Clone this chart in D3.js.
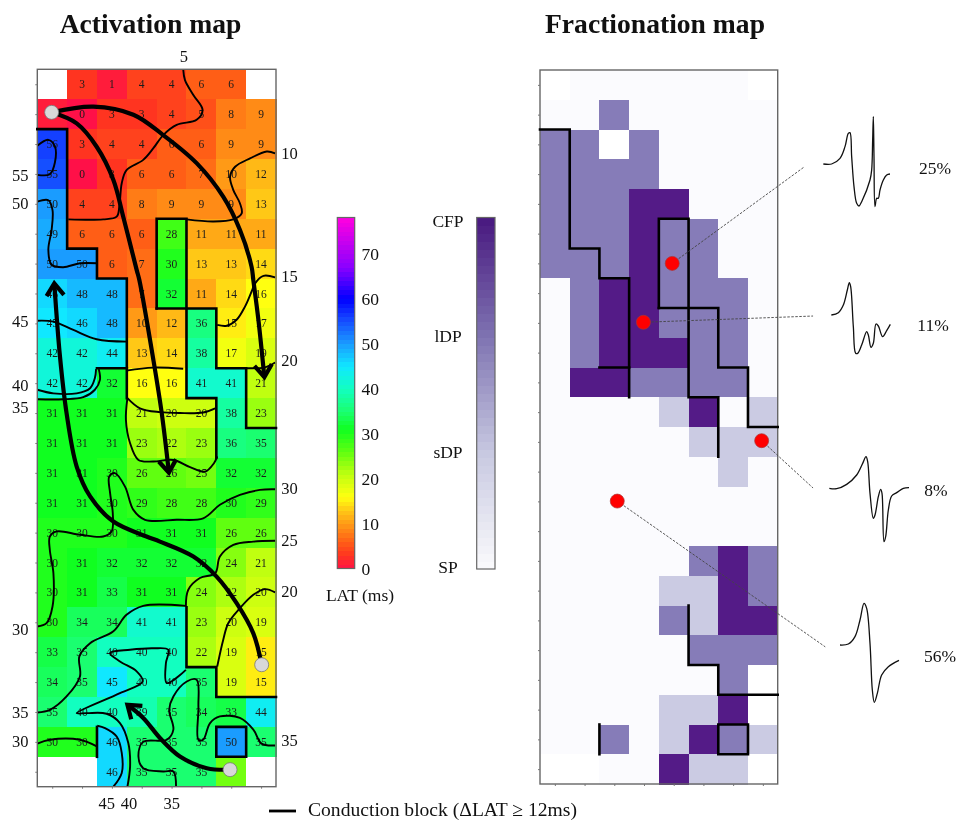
<!DOCTYPE html>
<html>
<head>
<meta charset="utf-8">
<script src="https://cdn.jsdelivr.net/npm/d3@7"></script>
<style>
  html, body { margin: 0; padding: 0; background: #fff; }
  svg { display: block; filter: blur(.35px); }
  text { font-family: "Liberation Serif", serif; fill: #111; }
  rect.cell { shape-rendering: crispEdges; }
</style>
</head>
<body>
<div id="chart"></div>
<script>
// LAT (ms) per electrode, rows top to bottom, null = no electrode
const latRows = [
  [null, 3, 1, 4, 4, 6, 6, null],
  [1, 0, 3, 3, 4, 5, 8, 9],
  [56, 3, 4, 4, 6, 6, 9, 9],
  [55, 0, 3, 6, 6, 7, 10, 12],
  [50, 4, 4, 8, 9, 9, 9, 13],
  [49, 6, 6, 6, 28, 11, 11, 11],
  [50, 50, 6, 7, 30, 13, 13, 14],
  [46, 48, 48, 7, 32, 11, 14, 16],
  [45, 46, 48, 10, 12, 36, 15, 17],
  [42, 42, 44, 13, 14, 38, 17, 19],
  [42, 42, 32, 16, 16, 41, 41, 21],
  [31, 31, 31, 21, 20, 20, 38, 23],
  [31, 31, 31, 23, 22, 23, 36, 35],
  [31, 31, 30, 26, 26, 25, 32, 32],
  [31, 31, 30, 29, 28, 28, 30, 29],
  [30, 30, 30, 31, 31, 31, 26, 26],
  [30, 31, 32, 32, 32, 32, 24, 21],
  [30, 31, 33, 31, 31, 24, 22, 20],
  [30, 34, 34, 41, 41, 23, 20, 19],
  [33, 35, 40, 40, 40, 22, 19, 15],
  [34, 35, 45, 40, 40, 35, 19, 15],
  [35, 40, 40, 39, 35, 34, 33, 44],
  [30, 30, 46, 35, 35, 35, 50, 35],
  [null, null, 46, 35, 35, 35, 25, null]
];
const latUnlabeled = ['1,0', '23,6'];

// fractionation class per electrode: null blank, 0 SP, 1 sDP, 2 lDP, 3 CFP
const fracRows = [
  [null, 0, 0, 0, 0, 0, 0, null],
  [0, 0, 2, 0, 0, 0, 0, 0],
  [2, 2, null, 2, 0, 0, 0, 0],
  [2, 2, 2, 2, 0, 0, 0, 0],
  [2, 2, 2, 3, 3, 0, 0, 0],
  [2, 2, 2, 3, 2, 2, 0, 0],
  [2, 2, 2, 3, 2, 2, 0, 0],
  [0, 2, 3, 3, 2, 2, 2, 0],
  [0, 2, 3, 3, 2, 2, 2, 0],
  [0, 2, 3, 3, 3, 2, 2, 0],
  [0, 3, 3, 2, 2, 2, 2, 0],
  [0, 0, 0, 0, 1, 3, 0, 1],
  [0, 0, 0, 0, 0, 1, 1, 1],
  [0, 0, 0, 0, 0, 0, 1, 0],
  [0, 0, 0, 0, 0, 0, 0, 0],
  [0, 0, 0, 0, 0, 0, 0, 0],
  [0, 0, 0, 0, 0, 2, 3, 2],
  [0, 0, 0, 0, 1, 1, 3, 2],
  [0, 0, 0, 0, 2, 1, 3, 3],
  [0, 0, 0, 0, 0, 2, 2, 2],
  [0, 0, 0, 0, 0, 0, 2, null],
  [0, 0, 0, 0, 1, 1, 3, null],
  [0, 0, 2, 0, 1, 3, 2, 1],
  [null, null, 0, 0, 3, 1, 1, null]
];

// conduction block lines, [col, row] on grid corners
const blockLines = [
  [[0, 2], [1, 2], [1, 6], [2, 6], [2, 7], [3, 7], [3, 11]],
  [[2, 10], [3, 10]],
  [[4, 8], [4, 5], [5, 5], [5, 11], [6, 11], [6, 13]],
  [[4, 8], [6, 8], [6, 10], [7, 10], [7, 12], [8, 12]],
  [[5, 18], [5, 20], [6, 20], [6, 21], [8, 21]],
  [[6, 22], [7, 22], [7, 23], [6, 23], [6, 22]],
  [[2, 22], [2, 23]]
];

// isochrones, [col, row]
const isochrones = [
  [[4.89, 0], [4.95, .36], [5.23, .86], [5.54, 1.36], [5.34, 1.69], [4.67, 1.86], [4.22, 2.2], [3.89, 2.64], [3.55, 3.03], [2.99, 3.37], [2.83, 3.81], [2.75, 4.59], [2.66, 4.93], [2.21, 5.02], [1.04, 5.02]],
  [[7.97, 2.81], [7.69, 2.75], [7.13, 2.98], [6.63, 3.26], [6.46, 3.59], [6.57, 4.04], [6.79, 4.48], [6.85, 4.82], [6.57, 5.02], [5.9, 5.09], [5, 5.02]],
  [[0, 2.56], [.37, 2.36], [.59, 2.58], [.59, 3.12], [.42, 3.51], [0, 3.53]],
  [[0, 4.43], [.37, 4.38], [.51, 4.71], [.48, 5.37], [.37, 6.04], [.48, 6.54], [.87, 6.62], [1.43, 6.49], [2.01, 6.49]],
  [[7.97, 6.96], [7.58, 6.91], [7.3, 7.16], [7.18, 7.44], [6.96, 7.94], [6.68, 8.38], [6.35, 8.58], [6.03, 8.55]],
  [[0, 8.41], [.54, 8.44], [1.21, 8.72], [1.99, 9.03], [2.99, 9.11]],
  [[0, 10.72], [.54, 10.84], [1.32, 10.84], [1.77, 10.67], [1.93, 10.33], [1.97, 10.03]],
  [[0, 11.04], [.87, 11.04], [1.54, 10.97], [1.93, 10.72], [2.1, 10.39], [2.06, 10.03]],
  [[2.99, 10.08], [3.88, 9.98], [4.89, 10.02]],
  [[7.02, 10], [7.63, 9.97], [7.97, 9.81]],
  [[3.02, 11], [3.44, 11.34], [4.11, 11.47], [4.78, 11.5], [5.56, 11.48], [5.96, 11.34]],
  [[3.02, 11], [2.97, 11.73], [3.11, 12.51], [3.39, 13.07], [3.89, 13.12], [4.56, 13.07], [5.12, 13.31], [5.62, 13.46], [5.92, 13.18], [6.03, 12.95]],
  [[7.97, 14.05], [7.46, 14.07], [6.79, 14.24], [6.12, 14.57], [5.56, 15.02], [4.67, 15.07], [3.61, 15.07], [3.22, 14.74], [2.94, 13.96], [2.6, 13.51], [2.41, 13.62], [2.44, 14.18], [2.53, 14.85], [2.49, 15.46], [2.21, 15.63], [1.43, 15.57], [.65, 15.46], [.42, 15.63], [.42, 16.08], [.54, 16.86], [.51, 17.97], [.31, 18.53], [0, 18.64]],
  [[7.97, 15.77], [7.24, 15.8], [6.57, 15.91], [6.12, 16.3], [5.96, 16.86], [5.45, 17.02], [5.06, 17.41], [4.98, 17.97]],
  [[7.97, 17.5], [7.63, 17.39], [7.24, 17.58], [6.79, 18.03], [6.4, 18.53], [6.23, 19.09], [6.03, 19.98]],
  [[0, 21.52], [.42, 21.43], [.98, 20.98], [1.43, 20.31], [1.41, 19.64], [1.77, 19.2], [2.55, 18.8], [2.99, 18.25], [3.55, 17.95], [4.98, 17.95]],
  [[4.98, 20.09], [4.34, 20.53], [4.31, 19.87], [4.39, 19.42], [3.89, 19.37], [3.11, 19.42], [2.44, 19.53], [2.77, 19.81], [3.33, 20.14], [3.53, 20.48], [2.77, 20.87], [1.32, 21.54], [1.65, 21.54], [2.32, 21.56], [2.77, 21.87], [3.05, 22.54], [3.11, 23.32], [3.02, 24]],
  [[2.55, 24], [2.83, 23.54], [2.83, 22.87], [2.66, 22.32], [2.27, 22.04], [2.01, 21.96]],
  [[0, 22.56], [.42, 22.43], [1.43, 22.43], [2.01, 22.66]],
  [[7.97, 22.62], [7.52, 22.56], [7.24, 22.09], [6.79, 21.7], [6.12, 21.65], [5.79, 21.87], [5.56, 22.43], [5.4, 22.43], [5.4, 21.32], [5.34, 20.42], [5.01, 20.48], [4.56, 20.98], [4.42, 21.43], [4.56, 22.09], [4.34, 22.43], [3.55, 22.5], [3.39, 22.99], [3.55, 23.38], [4.22, 23.49], [4.56, 23.49], [4.65, 24]]
];

// activation wavefront arrows, tail first, [col, row]
const wavefronts = [
  [[.48, 1.44], [1.88, 1.25], [3.22, 1.52], [4.22, 2.2], [5.34, 3.14], [6.23, 4.26], [6.79, 5.37], [7.18, 6.6], [7.24, 7.05], [7.41, 8.38], [7.61, 10.3]],
  [[.48, 1.44], [1.32, 1.81], [1.99, 2.59], [2.55, 3.7], [2.88, 4.93], [3.33, 6.71], [3.42, 7.05], [3.89, 9.72], [4.17, 11.5], [4.41, 13.49]],
  [[7.52, 19.92], [7.24, 18.87], [6.68, 17.86], [6.01, 16.97], [5.23, 16.3], [4.11, 15.8], [3.66, 15.63], [2.55, 15.13], [1.77, 14.29], [1.32, 13.29], [.98, 11.5], [.76, 9.61], [.57, 7.16]],
  [[6.46, 23.43], [5.68, 23.38], [4.78, 22.99], [4.11, 22.37], [3.55, 21.7], [3.02, 21.26]]
];
const pacingSites = [[.48, 1.44], [7.52, 19.92], [6.46, 23.43]];

// isochrone value labels, [text, col, row]
const isoLabels = [
  ['5', 4.91, -.45], ['10', 8.45, 2.8], ['15', 8.45, 6.92], ['20', 8.45, 9.72],
  ['30', 8.45, 14.03], ['25', 8.45, 15.75], ['20', 8.45, 17.47], ['35', 8.45, 22.46],
  ['55', -.57, 3.56], ['50', -.57, 4.47], ['45', -.57, 8.43], ['40', -.57, 10.58],
  ['35', -.57, 11.3], ['30', -.57, 18.72], ['35', -.57, 21.5], ['30', -.57, 22.47],
  ['45', 2.33, 24.55], ['40', 3.07, 24.55], ['35', 4.51, 24.55]
];

// recording sites on the fractionation map and where their leaders end
const sites = [[4.45, 6.5], [3.48, 8.48], [7.46, 12.46], [2.6, 14.49]];
const leaderEnds = [[8.89, 3.26], [9.19, 8.27], [9.19, 14.05], [9.6, 19.39]];
const sitePercent = ['25%', '11%', '8%', '56%'];

// electrogram traces, [t, v] in arbitrary units
const egm25 = [[100, 222], [125, 222], [150, 205], [165, 170], [175, 130], [180, 128], [185, 200], [192, 290], [200, 340], [207, 348], [215, 335], [240, 270], [245, 240], [248, 150], [250, 80], [252, 200], [255, 350], [260, 325], [265, 325], [270, 300], [280, 270], [290, 255], [300, 252]];
const egm11 = [[124, 675], [145, 668], [160, 645], [172, 600], [178, 578], [182, 590], [190, 710], [197, 790], [203, 790], [215, 765], [230, 725], [235, 735], [243, 772], [250, 760], [258, 702], [265, 708], [278, 740], [290, 722], [301, 703]];
const egm8 = [[118, 175], [140, 176], [170, 163], [200, 135], [218, 100], [228, 80], [233, 95], [240, 190], [250, 265], [255, 255], [265, 200], [272, 178], [276, 190], [282, 335], [287, 320], [295, 240], [305, 198], [320, 188], [340, 175], [357, 173]];
const egm56 = [[150, 645], [175, 642], [195, 620], [210, 570], [222, 520], [230, 535], [240, 640], [247, 780], [253, 817], [262, 790], [275, 735], [295, 710], [327, 691]];

const latTicks = [0, 10, 20, 30, 40, 50, 60, 70];
const fracTicks = ['SP', 'sDP', 'lDP', 'CFP'];

const width = 956, height = 821;
const labelSize = 17.5;
const isoSize = 16.5;
const svg = d3.select('#chart').append('svg').attr('width', width).attr('height', height);

const latColor = d3.scaleLinear()
  .domain([0, 3, 6, 10, 13, 16, 21, 26, 31, 35, 40, 45, 50, 56, 60, 67, 78])
  .range(['#ff1048', '#ff3420', '#ff5e16', '#ff9a16', '#ffc816', '#ffff10', '#c0ff10', '#60ff10', '#10ff20', '#1aff70', '#12ffc0', '#10e8ff', '#1a9cff', '#1440ff', '#0000ff', '#8a00ff', '#ff00e0']);
const fracColor = ['#fbfbfe', '#cbcbe3', '#867cb8', '#541b87'];

// activation map
const xA = d3.scaleLinear().domain([0, 8]).range([37.3, 276]);
const yA = d3.scaleLinear().domain([0, 24]).range([69.3, 786.7]);
// fractionation map
const xF = d3.scaleLinear().domain([0, 8]).range([540, 777.7]);
const yF = d3.scaleLinear().domain([0, 24]).range([70, 784]);

function drawCells(g, rows, x, y, fill) {
  rows.forEach((row, r) => {
    g.append('g').selectAll('rect').data(row).enter().append('rect')
      .attr('class', 'cell')
      .attr('x', (d, c) => x(c))
      .attr('y', y(r))
      .attr('width', x(1) - x(0) + .6)
      .attr('height', y(1) - y(0) + .6)
      .attr('fill', d => d === null ? '#fff' : fill(d));
  });
}

function drawBlocks(g, x, y, w) {
  const line = d3.line().x(d => x(d[0])).y(d => y(d[1]));
  g.selectAll('path.block').data(blockLines).enter().append('path')
    .attr('class', 'block')
    .attr('d', line)
    .attr('fill', 'none')
    .attr('stroke', '#000')
    .attr('stroke-width', w)
    .attr('stroke-linecap', 'square')
    .attr('stroke-linejoin', 'miter');
}

function drawFrame(g, x, y) {
  g.append('rect')
    .attr('x', x(0)).attr('y', y(0))
    .attr('width', x(8) - x(0)).attr('height', y(24) - y(0))
    .attr('fill', 'none').attr('stroke', '#666').attr('stroke-width', 1.4);
  const left = g.append('g').attr('transform', `translate(${x(0)},0)`)
    .call(d3.axisLeft(y).tickValues(d3.range(24).map(d => d + .5)).tickSize(2).tickFormat(''));
  const bottom = g.append('g').attr('transform', `translate(0,${y(24)})`)
    .call(d3.axisBottom(x).tickValues(d3.range(8).map(d => d + .5)).tickSize(2).tickFormat(''));
  [left, bottom].forEach(a => {
    a.select('.domain').remove();
    a.selectAll('line').attr('stroke', '#777');
  });
}

// --- activation map ---
const gA = svg.append('g');
drawCells(gA, latRows, xA, yA, latColor);

const cellLabels = [];
latRows.forEach((row, r) => row.forEach((v, c) => {
  if (v !== null && !latUnlabeled.includes(r + ',' + c)) cellLabels.push({ v, r, c });
}));
gA.append('g').selectAll('text').data(cellLabels).enter().append('text')
  .attr('x', d => xA(d.c + .5))
  .attr('y', d => yA(d.r + .5))
  .attr('dy', '.35em')
  .attr('text-anchor', 'middle')
  .attr('font-size', 11.5)
  .style('fill', '#1c1c1c')
  .text(d => d.v);

const isoLine = d3.line().x(d => xA(d[0])).y(d => yA(d[1])).curve(d3.curveCatmullRom.alpha(.5));
gA.append('g').selectAll('path').data(isochrones).enter().append('path')
  .attr('d', isoLine)
  .attr('fill', 'none')
  .attr('stroke', '#000')
  .attr('stroke-width', 1.9);

drawFrame(gA, xA, yA);
drawBlocks(gA, xA, yA, 2.6);

gA.append('g').selectAll('path').data(wavefronts).enter().append('path')
  .attr('d', isoLine)
  .attr('fill', 'none')
  .attr('stroke', '#000')
  .attr('stroke-width', 4.2);

// chevron head at the end of each arrow, turned along the last segment
gA.append('g').selectAll('path').data(wavefronts).enter().append('path')
  .attr('d', pts => {
    const a = pts[pts.length - 2], b = pts[pts.length - 1];
    const tip = [xA(b[0]), yA(b[1])];
    const ang = Math.atan2(tip[1] - yA(a[1]), tip[0] - xA(a[0]));
    const barb = s => [tip[0] - 15 * Math.cos(ang + s), tip[1] - 15 * Math.sin(ang + s)];
    return d3.line()([barb(.62), tip, barb(-.62)]);
  })
  .attr('fill', 'none')
  .attr('stroke', '#000')
  .attr('stroke-width', 4.2)
  .attr('stroke-linejoin', 'miter');

gA.append('g').selectAll('circle').data(pacingSites).enter().append('circle')
  .attr('cx', d => xA(d[0]))
  .attr('cy', d => yA(d[1]))
  .attr('r', 7)
  .attr('fill', '#d8d8d8')
  .attr('stroke', '#777')
  .attr('stroke-width', .8);

gA.append('g').selectAll('text').data(isoLabels).enter().append('text')
  .attr('x', d => xA(d[1]))
  .attr('y', d => yA(d[2]))
  .attr('dy', '.35em')
  .attr('text-anchor', 'middle')
  .attr('font-size', isoSize)
  .text(d => d[0]);

// --- fractionation map ---
const gF = svg.append('g');
drawCells(gF, fracRows, xF, yF, d => fracColor[d]);
drawFrame(gF, xF, yF);
drawBlocks(gF, xF, yF, 2.6);

gF.append('g').selectAll('line').data(sites).enter().append('line')
  .attr('x1', d => xF(d[0]))
  .attr('y1', d => yF(d[1]))
  .attr('x2', (d, i) => xF(leaderEnds[i][0]))
  .attr('y2', (d, i) => yF(leaderEnds[i][1]))
  .attr('stroke', '#444')
  .attr('stroke-width', .9)
  .attr('stroke-dasharray', '2.5,1.5');

gF.append('g').selectAll('circle').data(sites).enter().append('circle')
  .attr('cx', d => xF(d[0]))
  .attr('cy', d => yF(d[1]))
  .attr('r', 7)
  .attr('fill', '#ff0000')
  .attr('stroke', '#a33')
  .attr('stroke-width', .7);

// electrograms
function drawEgm(pts, x0, y0) {
  const tx = d3.scaleLinear().domain([0, 300]).range([x0, x0 + 100]);
  const vy = d3.scaleLinear().domain([0, 300]).range([y0, y0 + 100]);
  svg.append('path')
    .attr('d', d3.line().x(d => tx(d[0])).y(d => vy(d[1])).curve(d3.curveCatmullRom.alpha(.5))(pts))
    .attr('fill', 'none')
    .attr('stroke', '#111')
    .attr('stroke-width', 1.3);
}
drawEgm(egm25, 790, 90);
drawEgm(egm11, 790, 90);
drawEgm(egm8, 790, 430);
drawEgm(egm56, 790, 430);

const pctX = d3.scaleOrdinal().domain(sitePercent).range([935, 933, 936, 940]);
const pctY = d3.scaleOrdinal().domain(sitePercent).range([168, 325, 490, 656]);
svg.append('g').selectAll('text').data(sitePercent).enter().append('text')
  .attr('x', d => pctX(d))
  .attr('y', d => pctY(d))
  .attr('dy', '.35em')
  .attr('text-anchor', 'middle')
  .attr('font-size', labelSize)
  .text(d => d);

// --- colour bars ---
const yBar = d3.scaleLinear().domain([0, 78]).range([568.5, 217.5]);
const latBar = svg.append('g');
latBar.selectAll('rect').data(d3.range(0, 78, 1)).enter().append('rect')
  .attr('class', 'cell')
  .attr('x', 337.3)
  .attr('y', d => yBar(d + 1))
  .attr('width', 17.4)
  .attr('height', yBar(0) - yBar(1) + .6)
  .attr('fill', d => latColor(d + .5));
latBar.append('rect')
  .attr('x', 337.3).attr('y', yBar(78)).attr('width', 17.4).attr('height', yBar(0) - yBar(78))
  .attr('fill', 'none').attr('stroke', '#666').attr('stroke-width', 1.2);
latBar.selectAll('text').data(latTicks).enter().append('text')
  .attr('x', 361.5)
  .attr('y', d => yBar(d))
  .attr('dy', '.35em')
  .attr('font-size', labelSize)
  .text(d => d);
svg.append('text').attr('x', 360).attr('y', 601)
  .attr('text-anchor', 'middle').attr('font-size', labelSize).text('LAT (ms)');

// fractionation bar, stepped like the original
const fracBarColor = d3.scaleLinear().domain([0, .33, .66, 1])
  .range(['#fbfbfd', '#c8c9e1', '#7f74b2', '#48187f']);
const yFrac = d3.scaleLinear().domain([0, 1]).range([569, 217.5]);
const fracBar = svg.append('g');
fracBar.selectAll('rect').data(d3.range(0, 1, 1 / 44)).enter().append('rect')
  .attr('class', 'cell')
  .attr('x', 476.7)
  .attr('y', d => yFrac(d + 1 / 44))
  .attr('width', 18.3)
  .attr('height', (yFrac(0) - yFrac(1)) / 44 + .6)
  .attr('fill', d => fracBarColor(d + 1 / 88));
fracBar.append('rect')
  .attr('x', 476.7).attr('y', yFrac(1)).attr('width', 18.3).attr('height', yFrac(0) - yFrac(1))
  .attr('fill', 'none').attr('stroke', '#666').attr('stroke-width', 1.2);
const fracLabelY = d3.scalePoint().domain(fracTicks).range([567, 221]);
fracBar.selectAll('text').data(fracTicks).enter().append('text')
  .attr('x', 448)
  .attr('y', d => fracLabelY(d))
  .attr('dy', '.35em')
  .attr('text-anchor', 'middle')
  .attr('font-size', labelSize)
  .text(d => d);

// --- titles and legend ---
svg.append('text').attr('x', 150.5).attr('y', 33)
  .attr('text-anchor', 'middle').attr('font-size', 27.6).attr('font-weight', 'bold').text('Activation map');
svg.append('text').attr('x', 655).attr('y', 33)
  .attr('text-anchor', 'middle').attr('font-size', 27.6).attr('font-weight', 'bold').text('Fractionation map');

svg.append('line').attr('x1', 269).attr('x2', 296).attr('y1', 811).attr('y2', 811)
  .attr('stroke', '#000').attr('stroke-width', 2.8);
svg.append('text').attr('x', 308).attr('y', 816)
  .attr('font-size', 19.6).text('Conduction block (ΔLAT ≥ 12ms)');
</script>
</body>
</html>
